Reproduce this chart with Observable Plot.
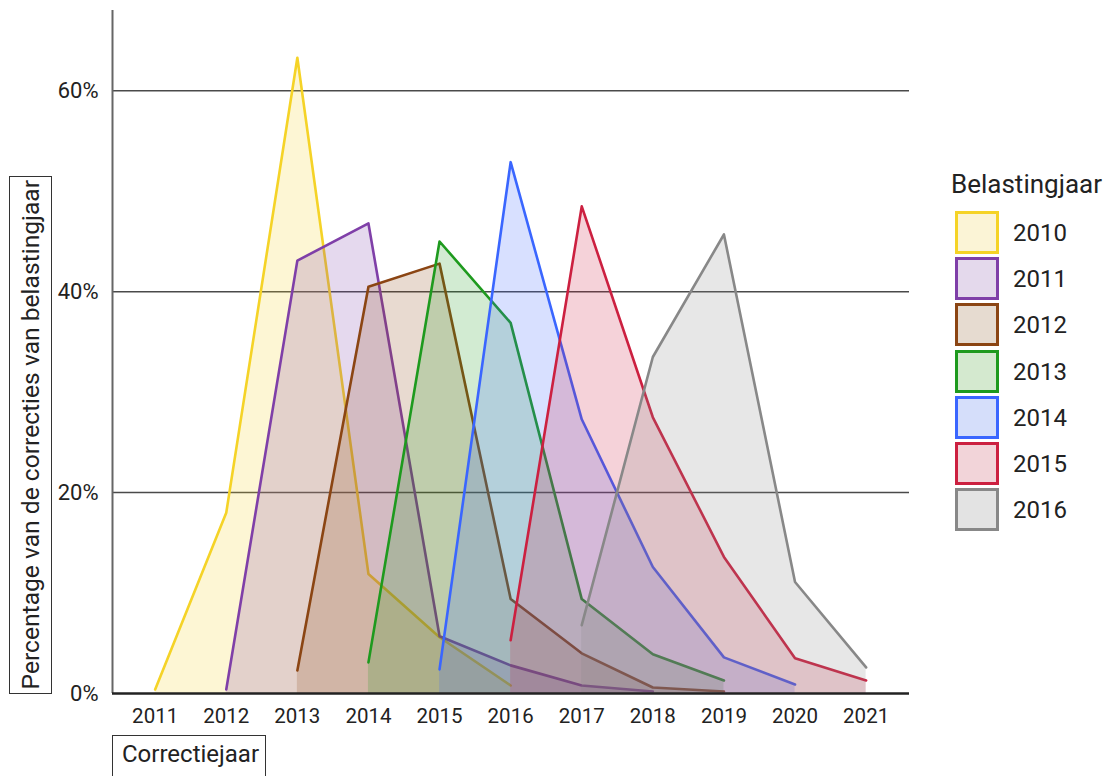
<!DOCTYPE html>
<html>
<head>
<meta charset="utf-8">
<script src="https://cdn.jsdelivr.net/npm/d3@7"></script>
<script src="https://cdn.jsdelivr.net/npm/@observablehq/plot@0.6"></script>
<style>
  body { margin: 0; background: #fff; font-family: Roboto, "Noto Sans", sans-serif; }
  #wrap { position: relative; width: 1115px; height: 776px; overflow: hidden; }
  #wrap svg { position: absolute; left: 0; top: 0; }
  .ybox { position: absolute; left: 9px; top: 176px; width: 41px; height: 516px; border: 1.5px solid #333;
          display: flex; align-items: center; justify-content: center; }
  .ybox span { writing-mode: vertical-rl; transform: rotate(180deg); font-size: 24.6px; color: #222; white-space: nowrap; }
  .xbox { position: absolute; left: 112px; top: 735px; width: 154px; height: 50px; border: 1.5px solid #333;
          font-size: 24px; color: #222; box-sizing: border-box; padding: 4px 0 0 9px; }
  .ltitle { position: absolute; left: 951px; top: 169px; font-size: 26px; color: #222; }
  .sw { position: absolute; left: 955px; width: 38px; height: 37px; }
  .sl { position: absolute; left: 1013px; font-size: 24px; color: #222; }
</style>
</head>
<body>
<div id="wrap"></div>
<script>
// Correctiejaar (x) tick labels
const correctiejaren = [2011, 2012, 2013, 2014, 2015, 2016, 2017, 2018, 2019, 2020, 2021];
// Belastingjaar series
const belastingjaren = ["2010", "2011", "2012", "2013", "2014", "2015", "2016"];
const startJaren = [2011, 2012, 2013, 2014, 2015, 2016, 2017];
const waarden2010 = [0.4, 18.0, 63.3, 11.9, 5.6, 0.8];
const waarden2011 = [0.4, 43.1, 46.8, 5.7, 2.8, 0.8, 0.2];
const waarden2012 = [2.3, 40.5, 42.8, 9.4, 4.0, 0.6, 0.2];
const waarden2013 = [3.1, 45.0, 36.9, 9.4, 3.9, 1.3];
const waarden2014 = [2.4, 52.9, 27.3, 12.6, 3.6, 0.9];
const waarden2015 = [5.3, 48.5, 27.5, 13.6, 3.5, 1.3];
const waarden2016 = [6.8, 33.5, 45.7, 11.1, 2.6];
const yTicks = [0, 20, 40, 60];

const strokeKleuren = ["#f5d327", "#7f3fa8", "#8b4513", "#1e9a1e", "#3a66ff", "#cc2040", "#888888"];
const fillKleuren = ["#fbf4d6", "#e4d9ec", "#e6dbd0", "#d4e9cf", "#d5defa", "#f2d4d9", "#e3e3e3"];

const alleWaarden = [waarden2010, waarden2011, waarden2012, waarden2013, waarden2014, waarden2015, waarden2016];
const series = belastingjaren.map((b, i) =>
  alleWaarden[i].map((v, j) => ({belastingjaar: b, jaar: startJaren[i] + j, pct: v}))
);

const xDomain = [2010.4, 2021.61];
const marks = [
  Plot.ruleY([20, 40, 60], {stroke: "#4a4a4a", strokeWidth: 1.5})
];
series.forEach((s, i) => {
  marks.push(Plot.areaY(s, {x: "jaar", y: "pct", fill: strokeKleuren[i], fillOpacity: 0.2}));
  marks.push(Plot.lineY(s, {x: "jaar", y: "pct", stroke: strokeKleuren[i], strokeWidth: 2.6}));
});
marks.push(Plot.ruleX([xDomain[0]], {y1: 0, y2: 68, stroke: "#666", strokeWidth: 2}));
marks.push(Plot.ruleY([0], {stroke: "#222", strokeWidth: 2.5}));
marks.push(Plot.axisX({ticks: correctiejaren, tickFormat: d => String(d), tickSize: 0, tickPadding: 15, label: null, fontSize: 20.5}));
marks.push(Plot.axisY({ticks: yTicks, tickFormat: d => d + "%", tickSize: 0, tickPadding: 14, label: null, fontSize: 22}));

const chart = Plot.plot({
  width: 1115,
  height: 776,
  marginLeft: 112,
  marginRight: 206,
  marginTop: 10,
  marginBottom: 83,
  style: {fontFamily: "Roboto", fontSize: "20px", color: "#222", background: "transparent", overflow: "visible"},
  x: {domain: xDomain},
  y: {domain: [0, 68]},
  marks
});

const wrap = document.getElementById("wrap");
wrap.appendChild(chart);

const yb = document.createElement("div");
yb.className = "ybox";
yb.innerHTML = "<span>Percentage van de correcties van belastingjaar</span>";
wrap.appendChild(yb);

const xb = document.createElement("div");
xb.className = "xbox";
xb.textContent = "Correctiejaar";
wrap.appendChild(xb);

const lt = document.createElement("div");
lt.className = "ltitle";
lt.textContent = "Belastingjaar";
wrap.appendChild(lt);

belastingjaren.forEach((b, i) => {
  const top = 211 + i * 46.2;
  const sw = document.createElement("div");
  sw.className = "sw";
  sw.style.top = top + "px";
  sw.style.background = fillKleuren[i];
  sw.style.border = "3px solid " + strokeKleuren[i];
  wrap.appendChild(sw);
  const sl = document.createElement("div");
  sl.className = "sl";
  sl.style.top = (top + 8) + "px";
  sl.textContent = b;
  wrap.appendChild(sl);
});
</script>
</body>
</html>
